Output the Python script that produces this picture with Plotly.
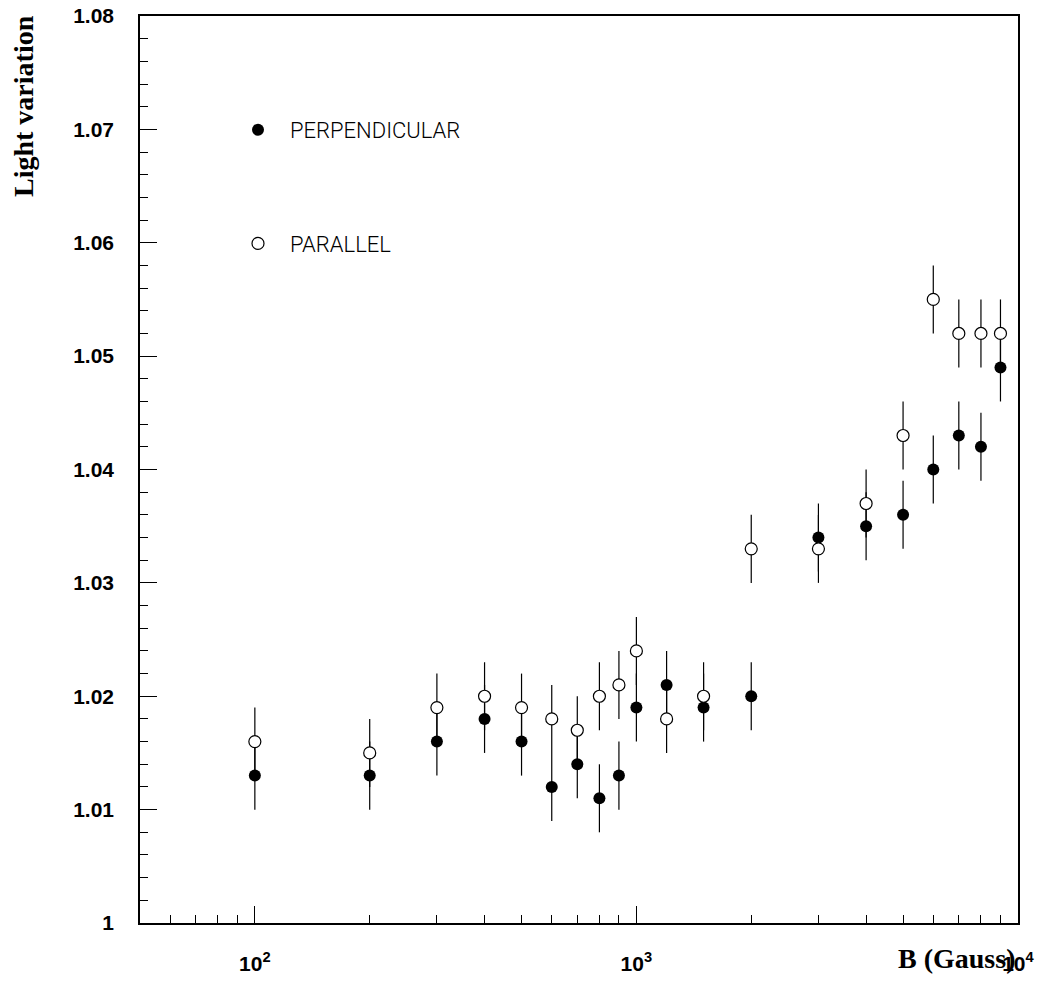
import plotly.graph_objects as go

# Magnetic field values (Gauss)
b_field = [100, 200, 300, 400, 500, 600, 700, 800, 900, 1000,
           1200, 1500, 2000, 3000, 4000, 5000, 6000, 7000, 8000, 9000]

perpendicular = [1.013, 1.013, 1.016, 1.018, 1.016, 1.012, 1.014, 1.011, 1.013, 1.019,
                 1.021, 1.019, 1.020, 1.034, 1.035, 1.036, 1.040, 1.043, 1.042, 1.049]
perpendicular_err = [0.003] * 20

parallel = [1.016, 1.015, 1.019, 1.020, 1.019, 1.018, 1.017, 1.020, 1.021, 1.024,
            1.018, 1.020, 1.033, 1.033, 1.037, 1.043, 1.055, 1.052, 1.052, 1.052]
parallel_err = [0.003] * 20

x_major_ticks = [100, 1000, 10000]
x_major_text = ["10<sup>2</sup>", "10<sup>3</sup>", "10<sup>4</sup>"]
x_minor_ticks = [60, 70, 80, 90, 200, 300, 400, 500, 600, 700, 800, 900,
                 2000, 3000, 4000, 5000, 6000, 7000, 8000, 9000]

# page body has an 8px offset; margins compensate
W, H = 1048, 982
ML, MR, MT, MB = 132, 38, 8, 67
pw, ph = W - ML - MR, H - MT - MB
bottom_px = H - MB

fig = go.Figure()
fig.add_trace(go.Scatter(
    x=b_field, y=perpendicular, mode="markers", name="PERPENDICULAR",
    legendgroup="perp",
    marker=dict(symbol="circle", size=12, color="black", line=dict(width=0)),
    error_y=dict(type="data", array=perpendicular_err, visible=True,
                 thickness=1.2, width=0, color="black"),
))
fig.add_trace(go.Scatter(
    x=b_field, y=parallel, mode="markers", name="PARALLEL",
    legendgroup="par",
    marker=dict(symbol="circle", size=12, color="white",
                line=dict(width=1.2, color="black")),
    error_y=dict(type="data", array=parallel_err, visible=True,
                 thickness=1.2, width=0, color="black"),
))

tickfont = dict(family="Liberation Sans, Arial, sans-serif", size=21,
                color="black", weight="bold")

fig.update_xaxes(
    type="log", range=[1.69897, 4.0002],
    showgrid=False, zeroline=False,
    showline=True, linewidth=1.5, linecolor="black", mirror=True,
    ticks="inside", ticklen=17, tickwidth=1.2, tickcolor="black",
    tickmode="array", tickvals=x_major_ticks, ticktext=x_major_text,
    tickfont=tickfont, ticklabelstandoff=21, ticklabeloverflow="allow",
    minor=dict(ticks="inside", ticklen=8, tickwidth=1.2, tickcolor="black",
               tickmode="array", tickvals=x_minor_ticks, showgrid=False),
)
fig.update_yaxes(
    range=[1.0, 1.08],
    showgrid=False, zeroline=False,
    showline=True, linewidth=1.5, linecolor="black", mirror=True,
    ticks="inside", ticklen=17, tickwidth=1.2, tickcolor="black",
    dtick=0.01, tick0=1.0,
    tickfont=tickfont, ticklabelstandoff=20, ticklabeloverflow="allow",
    minor=dict(ticks="inside", ticklen=8, tickwidth=1.2, tickcolor="black",
               dtick=0.002, tick0=1.0, showgrid=False),
)

fig.add_annotation(
    text="<b>Light variation</b>", xref="paper", yref="paper",
    x=(16 - ML) / pw, y=(bottom_px - 98) / ph, textangle=-90,
    showarrow=False, xanchor="center", yanchor="middle",
    font=dict(family="Liberation Serif, Times New Roman, serif", size=28, color="black"),
)
fig.add_annotation(
    text="<b>B (Gauss)</b>", xref="paper", yref="paper",
    x=(1009 - ML) / pw, y=(bottom_px - 950) / ph,
    showarrow=False, xanchor="right", yanchor="middle",
    font=dict(family="Liberation Serif, Times New Roman, serif", size=28, color="black"),
)

fig.update_layout(
    width=W, height=H,
    margin=dict(l=ML, r=MR, t=MT, b=MB, autoexpand=False),
    paper_bgcolor="white", plot_bgcolor="white",
    showlegend=True,
    legend=dict(
        x=(218 - ML) / pw, y=(bottom_px - 101) / ph,
        xanchor="left", yanchor="top",
        bgcolor="rgba(0,0,0,0)", borderwidth=0,
        itemwidth=54, tracegroupgap=82,
        font=dict(family="Roboto, Lato, DejaVu Sans, sans-serif", size=22,
                  color="black", weight=300),
    ),
)

fig.write_html("out.html")
